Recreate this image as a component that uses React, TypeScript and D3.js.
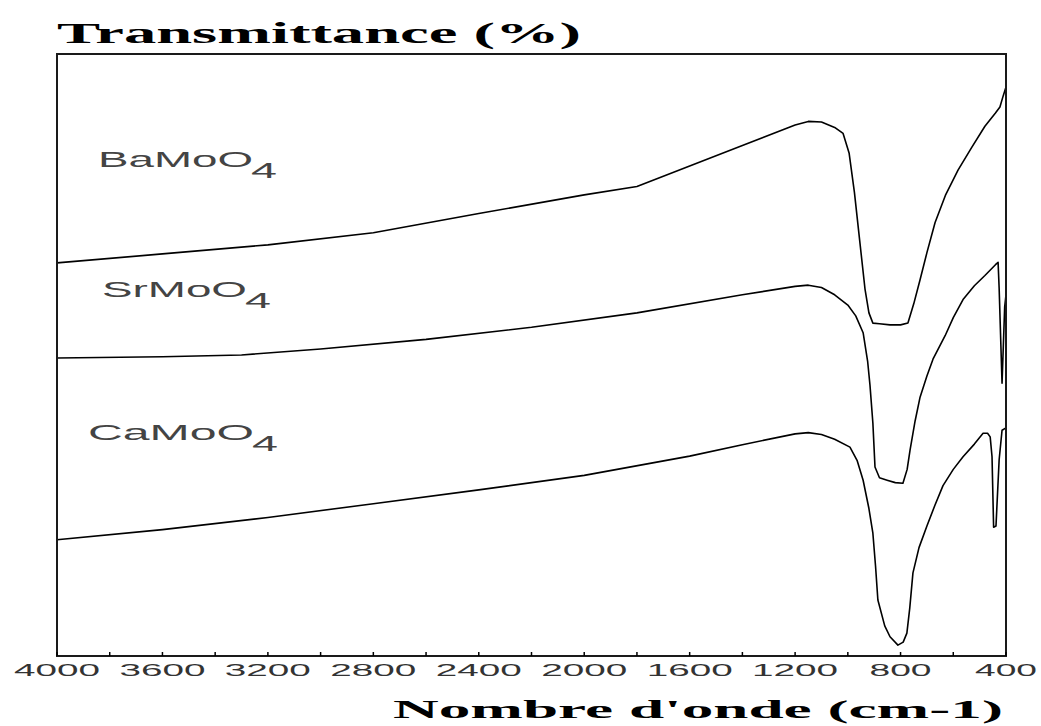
import React from "react";
import * as d3 from "d3";

type Pt = [number, number];

const baMoO4: Pt[] = [
  [4000, 65.3], [3600, 66.8], [3200, 68.3], [2800, 70.3], [2400, 73.5], [2000, 76.6],
  [1800, 78.0], [1600, 81.4], [1400, 84.8], [1200, 88.2], [1150, 88.8], [1100, 88.7],
  [1050, 87.8], [1018, 86.8], [995, 83.5], [975, 77], [955, 69], [935, 61], [920, 57],
  [905, 55.3], [880, 55.2], [840, 55.0], [800, 55.0], [772, 55.3], [750, 58.5],
  [726, 62.5], [700, 67.0], [669, 72.0], [630, 76.5], [582, 80.7], [530, 84.5],
  [480, 88.0], [440, 90.2], [423, 91.2], [411, 93.0], [400, 94.5],
];

const srMoO4: Pt[] = [
  [4000, 49.5], [3600, 49.7], [3300, 50.0], [3000, 51.0], [2600, 52.6], [2200, 54.6],
  [1800, 57.0], [1400, 60.0], [1200, 61.4], [1150, 61.6], [1100, 61.2], [1050, 60.0],
  [1000, 58.3], [970, 56.5], [942, 53.7], [925, 49], [916, 45], [905, 38.7],
  [897, 31.4], [880, 29.6], [851, 29.2], [820, 28.8], [791, 28.7], [775, 31],
  [764, 34.2], [745, 39], [726, 43.0], [700, 46.5], [677, 49.3], [631, 53.2],
  [600, 56.2], [563, 59.2], [520, 61.5], [480, 63.2], [440, 65], [430, 65.4],
  [426, 61.1], [415, 45.3], [405, 58], [400, 60],
];

const caMoO4: Pt[] = [
  [4000, 19.3], [3600, 21.0], [3200, 23.0], [2800, 25.3], [2400, 27.6], [2000, 30.0],
  [1600, 33.2], [1400, 35.1], [1200, 36.9], [1150, 37.1], [1100, 36.8], [1050, 36.0],
  [992, 34.7], [965, 32.5], [942, 29.2], [920, 24.5], [905, 20.4], [895, 15],
  [886, 9.3], [860, 5], [840, 3.2], [810, 1.8], [790, 2.3], [776, 3.8], [765, 8],
  [753, 13.8], [730, 18], [700, 21.6], [670, 25], [639, 28.3], [600, 31],
  [563, 33.1], [520, 35.2], [487, 37.0], [470, 37.0], [460, 36.4], [453, 33.1],
  [447, 21.4], [438, 21.6], [426, 32.6], [415, 37.5], [400, 37.9],
];

const xTickLabels = [4000, 3600, 3200, 2800, 2400, 2000, 1600, 1200, 800, 400];
const xMinorTicks = d3.range(4000, 399, -200);

const seriesLabels = [
  { name: "BaMoO", sub: "4", x: 98, y: 167, w: 155 },
  { name: "SrMoO", sub: "4", x: 102, y: 297, w: 145 },
  { name: "CaMoO", sub: "4", x: 88, y: 440, w: 166 },
];

const L = 57, R = 1006, T = 54, B = 656;

export default function App() {
  const x = d3.scaleLinear().domain([4000, 400]).range([L, R]);
  const y = d3.scaleLinear().domain([0, 100]).range([B, T]);
  const line = d3.line<Pt>().x((d) => x(d[0])).y((d) => y(d[1]));
  const series = [baMoO4, srMoO4, caMoO4];
  return (
    <svg width={1041} height={726} style={{ position: "absolute", left: 0, top: 0, background: "#fff" }}>
      <text x={57} y={43} fontFamily="Liberation Serif" fontWeight="bold" fontSize={30}
        textLength={524} lengthAdjust="spacingAndGlyphs" fill="#000">Transmittance (%)</text>
      {series.map((s, i) => (
        <path key={i} d={line(s) || ""} fill="none" stroke="#000" strokeWidth={1.6} strokeLinejoin="round" />
      ))}
      <rect x={L} y={T} width={R - L} height={B - T} fill="none" stroke="#1a1a1a" strokeWidth={2} />
      {xMinorTicks.map((t) => (
        <line key={t} x1={x(t)} x2={x(t)} y1={B} y2={B - 4} stroke="#000" strokeWidth={1.5} />
      ))}
      {xTickLabels.map((t) => (
        <text key={t} x={x(t)} y={676} textAnchor="middle" fontFamily="Liberation Sans" fontSize={17}
          fill="#333" textLength={t >= 1000 ? 86 : 62} lengthAdjust="spacingAndGlyphs">{t}</text>
      ))}
      {seriesLabels.map((l) => (
        <g key={l.name + l.y}>
          <text x={l.x} y={l.y} fontFamily="Liberation Sans" fontSize={22} fill="#444"
            textLength={l.w} lengthAdjust="spacingAndGlyphs">{l.name}</text>
          <text x={l.x + l.w - 2} y={l.y + 11} fontFamily="Liberation Sans" fontSize={22} fill="#444"
            textLength={26} lengthAdjust="spacingAndGlyphs">{l.sub}</text>
        </g>
      ))}
      <text x={393} y={718} fontFamily="Liberation Serif" fontWeight="bold" fontSize={26}
        textLength={610} lengthAdjust="spacingAndGlyphs" fill="#000">Nombre d'onde (cm-1)</text>
    </svg>
  );
}
